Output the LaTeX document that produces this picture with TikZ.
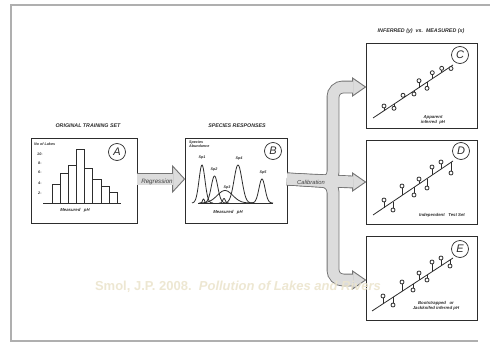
\documentclass[tikz,border=0pt]{standalone}
\usepackage{fontspec}
\setmainfont{Liberation Sans}
\usetikzlibrary{calc}
\definecolor{ink}{RGB}{45,45,45}
\definecolor{arrfill}{RGB}{220,220,220}
\definecolor{arrline}{RGB}{115,115,115}
\definecolor{framec}{RGB}{175,175,175}
\definecolor{wmark}{RGB}{236,229,206}
\begin{document}
\begin{tikzpicture}[x=1pt,y=-1pt,
  box/.style={draw=ink,line width=0.9pt,inner sep=0,minimum height=85pt},
  ttl/.style={font=\fontsize{5.3}{6}\selectfont\bfseries\itshape,text=ink,inner sep=0},
  lbl/.style={font=\fontsize{4.3}{5}\selectfont\bfseries\itshape,text=ink,inner sep=0,align=center},
  tiny/.style={font=\fontsize{3.7}{4.2}\selectfont\bfseries\itshape,text=ink,inner sep=0,align=left},
  tag/.style={circle,draw=ink,line width=0.7pt,minimum size=17pt,inner sep=0,font=\fontsize{11}{11}\selectfont\itshape,text=ink},
  arrtext/.style={font=\fontsize{6.2}{7}\selectfont\itshape,text=ink!90,inner sep=0},
  outerstroke/.style={draw=arrline,line width=12.8pt},
  innerstroke/.style={draw=arrfill,line width=11pt},
  headshape/.style={fill=arrfill,draw=arrline,line width=0.9pt,line join=miter},
  ink/.style={draw=ink,line width=0.8pt}
]
\useasboundingbox (0,0) rectangle (490,343);
\fill[white] (0,0) rectangle (490,343);
% frame
\draw[framec,line width=1.5pt] (490,5) -- (11,5) -- (11,341) -- (478,341);

% boxes
\node[box,minimum width=106pt] (A) at (84,180.5) {};
\node[box,minimum width=102pt] (B) at (236,180.5) {};
\node[box,minimum width=111pt] (C) at (421.5,85.5) {};
\node[box,minimum width=111pt,minimum height=84pt] (D) at (421.5,182) {};
\node[box,minimum width=111pt,minimum height=84pt] (E) at (421.5,278) {};

% titles
\node[ttl] (tA) at (88,126) {ORIGINAL TRAINING SET};
\node[ttl] (tB) at (237,126) {SPECIES RESPONSES};
\node[ttl] (tC) at (421,31) {INFERRED (y)\ \ vs.\ \ MEASURED (x)};

% tags
\node[tag] (cA) at (117,152) {A};
\node[tag] (cB) at (273,151) {B};
\node[tag] (cC) at (460,55) {C};
\node[tag] (cD) at (461,151) {D};
\node[tag] (cE) at (460,249) {E};

% ---- histogram in A
\node[tiny,anchor=west] (nol) at (34,144) {No of Lakes};
\node[tiny,anchor=west] (y10) at (37,154) {10-};
\node[tiny,anchor=west] (y8) at (38,163) {8-};
\node[tiny,anchor=west] (y6) at (38,172) {6-};
\node[tiny,anchor=west] (y4) at (38,183) {4-};
\node[tiny,anchor=west] (y2) at (38,193) {2-};
\foreach \i/\t in {0/184,1/173,2/165,3/149,4/168,5/179,6/186,7/192}{
  \draw[ink] ({52+8.16*\i},203) rectangle ({52+8.16*(\i+1)},\t);
}
\draw[ink] (43,203) -- (121,203);
\node[lbl] (mA) at (75,210) {Measured\ \ \ pH};

% ---- species responses in B
\node[tiny,anchor=west] (sab) at (189,144) {Species\\Abundance};
\draw[ink] (198,203) -- (273,203);
\draw[ink] plot[domain=192:213,samples=40] (\x,{203-38*exp(-1*(((\x-202)/4.2)^2))});
\draw[ink] plot[domain=205:228,samples=40] (\x,{203-27*exp(-1*(((\x-214.5)/4.6)^2))});
\draw[ink] plot[domain=199:254,samples=50] (\x,{203-12.5*exp(-1*(((\x-225)/11)^2))});
\draw[ink] plot[domain=226:254,samples=40] (\x,{203-38*exp(-1*(((\x-238)/5.6)^2))});
\draw[ink] plot[domain=251:273,samples=40] (\x,{203-24*exp(-1*(((\x-262)/4.3)^2))});
\draw[ink] plot[domain=200:207,samples=20] (\x,{203-4*exp(-1*(((\x-203.5)/1.4)^2))});
\draw[ink] plot[domain=219:229,samples=20] (\x,{203-4.5*exp(-1*(((\x-224)/1.8)^2))});
\node[tiny] (s1) at (202,158) {Sp1};
\node[tiny] (s2) at (214,170) {Sp2};
\node[tiny] (s3) at (227,188) {Sp3};
\node[tiny] (s4) at (239,159) {Sp4};
\node[tiny] (s5) at (263,173) {Sp5};
\node[lbl] (mB) at (228,212) {Measured\ \ \ pH};

% ---- scatter C
\draw[ink] (373,118) -- (453,65);
\foreach \px/\py in {384/106,394/108.3,403/95.3,414/94,419/80.7,427/88.3,432.3/72.7,441.7/68.3,451/68.5}{
  \pgfmathsetmacro\yl{118-0.6625*(\px-373)}
  \draw[ink] (\px,\yl) -- (\px,\py);
  \filldraw[ink,fill=white] (\px,\py) circle (2pt);
}
\node[lbl] (lC) at (433,119.5) {Apparent\\inferred\ \ pH};

% ---- scatter D
\draw[ink] (373,215) -- (453,161);
\foreach \px/\py in {384/200,393/210,402/186,414/195,419/179,427/188,432/167,441/162,451/173}{
  \pgfmathsetmacro\yl{215-0.675*(\px-373)}
  \draw[ink] (\px,\yl) -- (\px,\py);
  \filldraw[ink,fill=white] (\px,\py) circle (2pt);
}
\node[lbl] (lD) at (442,215) {Independent\ \ \ Test Set};

% ---- scatter E
\draw[ink] (372,311) -- (453,258);
\foreach \px/\py in {383/296,393/305,402/282,413/290,419/273,427/280,432/262,441/258,450/266}{
  \pgfmathsetmacro\yl{311-0.654*(\px-372)}
  \draw[ink] (\px,\yl) -- (\px,\py);
  \filldraw[ink,fill=white] (\px,\py) circle (2pt);
}
\node[lbl] (lE) at (436,306) {Bootstrapped\ \ \ or\\Jackknifed inferred pH};

% ---- Regression arrow
\coordinate (r0) at ($(A.east)+(-0.5,-1.5)$);
\coordinate (rt) at ($(B.west)+(0,-1.5)$);
\coordinate (rb) at ($(rt)+(-12,0)$);
\draw[outerstroke] (r0) -- ($(rb)+(0.5,0)$);
\draw[headshape] ($(rb)+(0,-13)$) -- (rt) -- ($(rb)+(0,13)$) -- cycle;
\draw[innerstroke] (r0) -- ($(rb)+(0.8,0)$);
\node[arrtext] (reg) at (157,182) {Regression};

% ---- Calibration arrow
\coordinate (c0) at ($(B.east)+(-0.5,-1.5)$);
\coordinate (tC) at ($(C.west)+(0,1.5)$);
\coordinate (tD) at (D.west);
\coordinate (tE) at ($(E.west)+(0,2)$);
\coordinate (bC) at ($(tC)+(-13,0)$);
\coordinate (bD) at ($(tD)+(-13,0)$);
\coordinate (bE) at ($(tE)+(-13,0)$);
\coordinate (jx) at (333,182);
\begin{scope}[rounded corners=10pt]
\draw[outerstroke] (c0) -- (jx) -- (jx |- bC) -- ($(bC)+(0.5,0)$);
\draw[outerstroke] (c0) -- (jx) -- (jx |- bE) -- ($(bE)+(0.5,0)$);
\end{scope}
\draw[outerstroke] (c0) -- ($(bD)+(0.5,0)$);
\foreach \b/\t in {bC/tC,bD/tD,bE/tE}{
  \draw[headshape] ($(\b)+(0,-9)$) -- (\t) -- ($(\b)+(0,9)$) -- cycle;
}
\begin{scope}[rounded corners=10pt]
\draw[innerstroke] (c0) -- (jx) -- (jx |- bC) -- ($(bC)+(0.8,0)$);
\draw[innerstroke] (c0) -- (jx) -- (jx |- bE) -- ($(bE)+(0.8,0)$);
\end{scope}
\draw[innerstroke] (c0) -- ($(bD)+(0.8,0)$);
\node[arrtext,font=\fontsize{5.8}{7}\selectfont\itshape] (cal) at (311,182) {Calibration};

% ---- watermark
\node[text=wmark,font=\fontsize{13}{15}\selectfont\bfseries,inner sep=0,opacity=0.9] (wm) at (238,287) {Smol, J.P. 2008.\ \ \textit{Pollution of Lakes and Rivers}};
\end{tikzpicture}
\end{document}
